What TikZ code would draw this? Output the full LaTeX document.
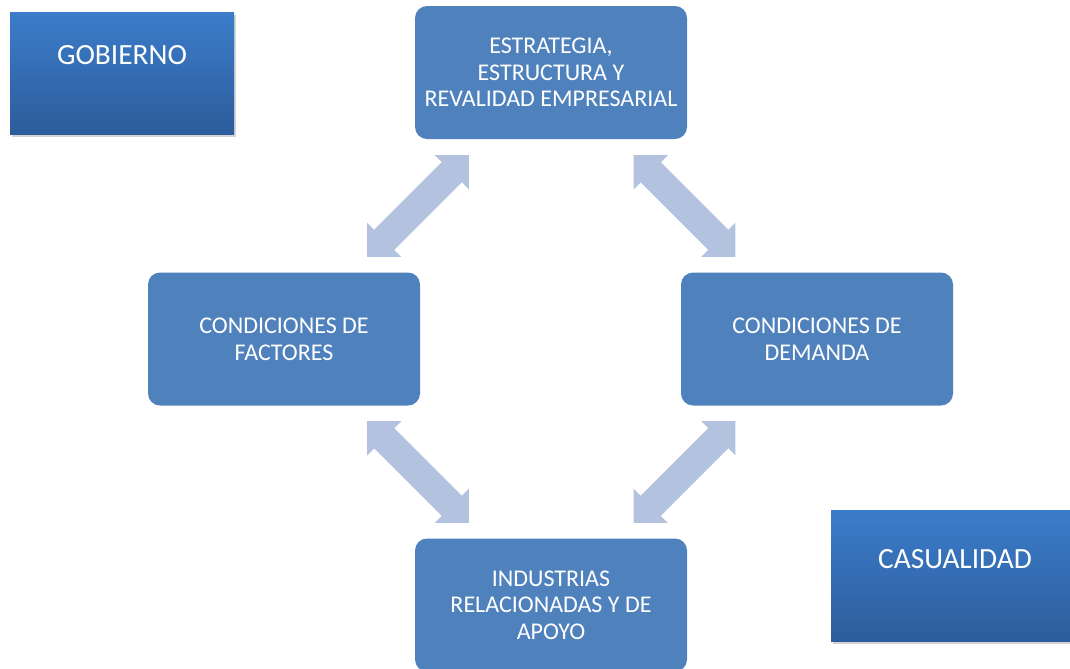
\documentclass[tikz,border=0pt]{standalone}
\usepackage{fontspec}
\setmainfont{Carlito}
\usetikzlibrary{shapes.arrows,shadows}
\definecolor{boxblue}{HTML}{4F81BD}
\definecolor{arrowblue}{HTML}{B3C3DF}
\definecolor{gradtop}{HTML}{3B7DCA}
\definecolor{gradbot}{HTML}{2D5C9B}
\begin{document}
\begin{tikzpicture}[x=0.75pt,y=-0.75pt,
  mainbox/.style={rectangle, rounded corners=9pt, fill=boxblue, text=white,
    minimum width=204pt, minimum height=99.75pt, inner sep=0pt, align=center,
    font=\fontsize{18}{20}\selectfont},
  gradbox/.style={rectangle, top color=gradtop, bottom color=gradbot, draw=none,
    inner sep=0pt,
    drop shadow={shadow xshift=1.5pt, shadow yshift=-2.5pt, opacity=0.35}},
  gradtext/.style={text=white, font=\fontsize{22}{26}\selectfont, inner sep=0pt},
  blockarrow/.style={double arrow, fill=arrowblue, draw=none, inner sep=0pt,
    text height=21pt, text depth=0pt, minimum height=108pt,
    double arrow head extend=7.5pt, double arrow tip angle=90}
]
\useasboundingbox (0,0) rectangle (1070,668);
\clip (0,0) rectangle (1070,668);

% block arrows
\node[blockarrow, rotate=45]  (a1) at (418,206) {};
\node[blockarrow, rotate=-45] (a2) at (684.5,206) {};
\node[blockarrow, rotate=-45] (a3) at (418,472) {};
\node[blockarrow, rotate=45]  (a4) at (684.5,472) {};

% main boxes
\node[mainbox] (est) at (551,72.5) {ESTRATEGIA,\\ESTRUCTURA Y\\REVALIDAD EMPRESARIAL};
\node[mainbox] (fac) at (284,339) {CONDICIONES DE\\FACTORES};
\node[mainbox] (dem) at (817,339) {CONDICIONES DE\\DEMANDA};
\node[mainbox] (ind) at (551,605) {INDUSTRIAS\\RELACIONADAS Y DE\\APOYO};

% gradient boxes
\node[gradbox, minimum width=168pt, minimum height=91.5pt] (gob) at (122,73) {};
\node[gradtext] (gobt) at (122,55.5) {GOBIERNO};
\node[gradbox, minimum width=186pt, minimum height=98.25pt] (cas) at (955,575.5) {};
\node[gradtext] (cast) at (955,559) {CASUALIDAD};
\end{tikzpicture}
\end{document}
